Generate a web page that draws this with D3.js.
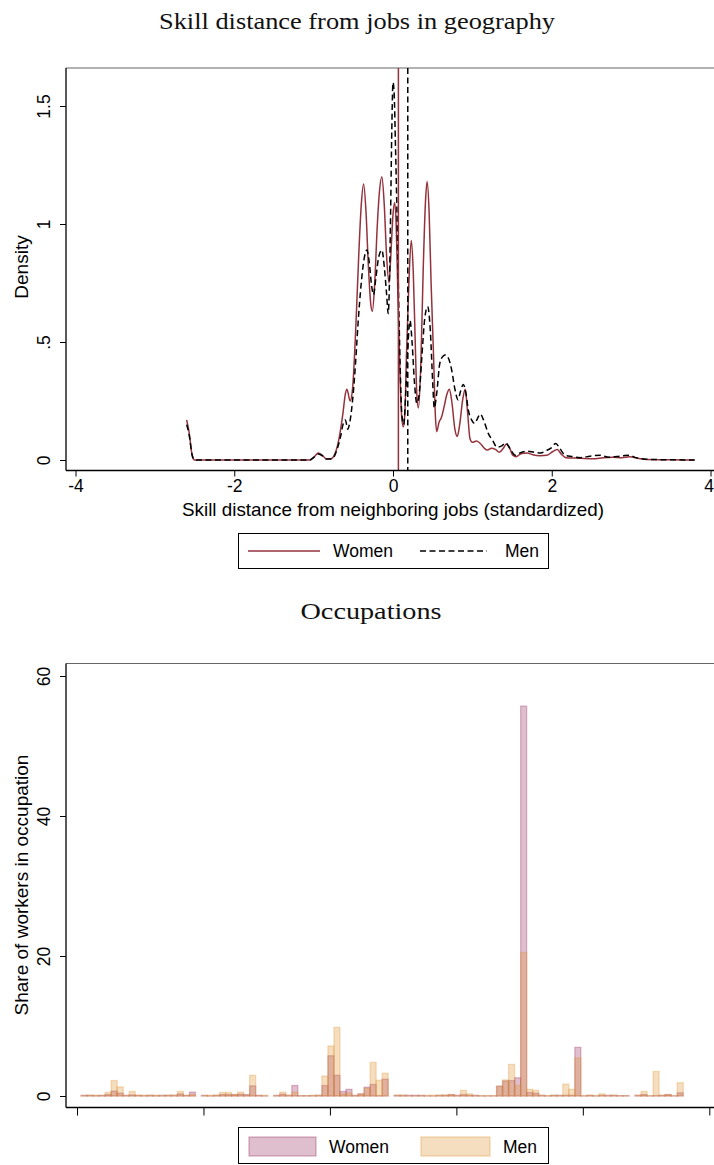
<!DOCTYPE html>
<html><head><meta charset="utf-8">
<script src="https://cdn.jsdelivr.net/npm/d3@7"></script>
<style>body{margin:0;background:#fff}svg{display:block}</style>
</head><body>
<script>
// ---------- Data: density panel ----------
const densityTitle = "Skill distance from jobs in geography";
const densityXTicks = [-4, -2, 0, 2, 4];
const densityYTicks = [0, 0.5, 1, 1.5];
const densityYTickLabels = ["0", ".5", "1", "1.5"];
const womenMean = 0.068;
const menMean = 0.186;
const womenDensity = [[-2.60,0.17],[-2.57,0.12],[-2.53,0.02],[-2.50,0.0],[-1.05,0.0],[-0.99,0.015],[-0.94,0.03],[-0.89,0.02],[-0.84,0.005],[-0.78,0.005],[-0.74,0.02],[-0.70,0.06],[-0.66,0.13],[-0.63,0.20],[-0.60,0.28],[-0.58,0.30],[-0.54,0.25],[-0.51,0.30],[-0.47,0.55],[-0.43,0.88],[-0.40,1.08],[-0.37,1.17],[-0.34,1.05],[-0.31,0.82],[-0.28,0.66],[-0.26,0.63],[-0.23,0.75],[-0.20,0.98],[-0.17,1.14],[-0.14,1.20],[-0.11,1.08],[-0.08,0.86],[-0.05,0.75],[-0.03,0.85],[0.00,1.04],[0.02,1.09],[0.04,1.0],[0.06,0.72],[0.085,0.40],[0.11,0.18],[0.13,0.14],[0.15,0.2],[0.17,0.45],[0.20,0.75],[0.23,0.93],[0.255,0.8],[0.28,0.5],[0.30,0.28],[0.32,0.22],[0.35,0.4],[0.38,0.8],[0.41,1.1],[0.43,1.18],[0.455,1.05],[0.48,0.75],[0.51,0.45],[0.535,0.18],[0.55,0.12],[0.58,0.16],[0.61,0.18],[0.64,0.22],[0.68,0.28],[0.71,0.30],[0.74,0.25],[0.78,0.13],[0.81,0.10],[0.84,0.15],[0.88,0.26],[0.91,0.30],[0.94,0.2],[0.97,0.09],[1.0,0.075],[1.05,0.08],[1.10,0.07],[1.15,0.05],[1.19,0.042],[1.24,0.05],[1.29,0.045],[1.34,0.033],[1.39,0.05],[1.43,0.068],[1.47,0.05],[1.51,0.02],[1.55,0.014],[1.62,0.028],[1.69,0.03],[1.76,0.022],[1.85,0.018],[1.94,0.02],[2.01,0.035],[2.07,0.045],[2.12,0.025],[2.18,0.01],[2.3,0.008],[2.52,0.005],[2.65,0.01],[2.77,0.012],[2.88,0.01],[2.98,0.014],[3.1,0.006],[3.19,0.002],[3.5,0.001],[3.8,0.0]];
const menDensity = [[-2.60,0.15],[-2.57,0.11],[-2.53,0.02],[-2.50,0.0],[-1.05,0.0],[-0.99,0.013],[-0.94,0.025],[-0.89,0.018],[-0.84,0.004],[-0.78,0.004],[-0.74,0.015],[-0.70,0.05],[-0.66,0.10],[-0.63,0.15],[-0.60,0.17],[-0.57,0.13],[-0.55,0.15],[-0.51,0.25],[-0.47,0.42],[-0.44,0.58],[-0.40,0.75],[-0.36,0.86],[-0.33,0.89],[-0.30,0.84],[-0.27,0.74],[-0.245,0.70],[-0.22,0.76],[-0.18,0.86],[-0.14,0.89],[-0.11,0.82],[-0.08,0.70],[-0.06,0.62],[-0.045,0.75],[-0.03,1.05],[-0.015,1.40],[0.0,1.60],[0.015,1.55],[0.03,1.35],[0.05,1.05],[0.07,0.7],[0.09,0.4],[0.11,0.2],[0.135,0.15],[0.16,0.28],[0.19,0.5],[0.215,0.59],[0.24,0.5],[0.27,0.33],[0.30,0.24],[0.33,0.28],[0.36,0.42],[0.40,0.6],[0.437,0.65],[0.47,0.55],[0.50,0.33],[0.52,0.22],[0.55,0.28],[0.59,0.41],[0.63,0.44],[0.66,0.445],[0.70,0.43],[0.74,0.38],[0.78,0.30],[0.82,0.255],[0.85,0.29],[0.885,0.32],[0.92,0.28],[0.95,0.21],[0.99,0.17],[1.03,0.155],[1.07,0.18],[1.10,0.195],[1.14,0.17],[1.20,0.113],[1.26,0.08],[1.31,0.054],[1.37,0.06],[1.42,0.073],[1.47,0.05],[1.54,0.02],[1.60,0.03],[1.69,0.037],[1.78,0.033],[1.86,0.03],[1.93,0.04],[1.99,0.05],[2.05,0.07],[2.10,0.05],[2.17,0.02],[2.26,0.015],[2.36,0.01],[2.48,0.016],[2.61,0.02],[2.72,0.012],[2.82,0.015],[2.90,0.018],[2.98,0.02],[3.06,0.01],[3.19,0.003],[3.5,0.001],[3.8,0.0]];

// ---------- Data: occupations panel ----------
const occTitle = "Occupations";
const occYTicks = [0, 20, 40, 60];
const occXTicks = [0, 21, 42, 63, 84, 105];
// occupation slot index (empty slots omitted)
const occSlots = [0,1,2,3,4,5,6,7,8,9,10,11,12,13,14,15,16,17,18,
  20,21,22,23,24,25,26,27,28,29,30,
  32,33,34,35,36,37,38,39,40,41,42,43,44,45,46,47,48,49,50,
  52,53,54,55,56,57,58,59,60,61,62,63,64,65,66,67,68,69,70,71,72,73,74,75,76,77,78,79,80,81,82,83,84,85,86,87,88,89,90,
  92,93,94,95,96,97,98,99];
const occWomen = [0.1,0.1,0.05,0.1,0.2,0.7,0.4,0.1,0.15,0.1,0.05,0.1,0.05,0.1,0.1,0.1,0.3,0.1,0.55,
  0.1,0.02,0.1,0.2,0.2,0.2,0.25,0.2,1.45,0.1,0.02,
  0.1,0.25,0.1,1.5,0.05,0.05,0.05,0.1,1.5,5.75,2.95,0.65,0.95,0.1,0.3,1.25,1.65,0.05,2.4,
  0.1,0.1,0.1,0.1,0.1,0.02,0.02,0.1,0.1,0.2,0.1,0.2,0.1,0.1,0.02,0.02,0.02,1.4,2.15,2.2,2.6,55.7,0.5,0.4,0.1,0.02,0.1,0.1,0.1,0.1,6.95,0.02,0.1,0.02,0.1,0.1,0.1,0.05,0.05,
  0.1,0.2,0.02,0.05,0.1,0.2,0.02,0.45];
const occMen = [0.05,0.1,0.1,0.05,0.5,2.2,1.3,0.05,0.65,0.1,0.1,0.1,0.1,0.05,0.1,0.1,0.65,0.05,0.2,
  0.05,0.1,0.1,0.5,0.5,0.2,0.55,0.1,2.95,0.05,0.1,
  0.05,0.55,0.1,0.55,0.02,0.02,0.1,0.1,2.85,7.15,9.8,0.3,0.45,0.05,0.3,1.1,4.8,2.25,3.25,
  0.1,0.1,0.02,0.02,0.02,0.1,0.1,0.1,0.15,0.2,0.05,0.8,0.3,0.05,0.05,0.05,0.05,1.4,2.3,4.5,1.5,20.5,0.95,0.8,0.1,0.05,0.1,0.05,1.7,0.95,5.45,0.05,0.1,0.05,0.3,0.02,0.1,0.02,0.02,
  0.1,0.65,0.05,3.5,0.1,0.2,0.05,1.9];
const seriesNames = ["Women", "Men"];

// ---------- Drawing ----------
const W = 714, H = 1165;
const sans = "'Liberation Sans', Arial, Helvetica, sans-serif";
const serif = "'Liberation Serif', 'DejaVu Serif', serif";
const womenLine = "#94323c";
const womenFill = "rgba(150,40,90,0.3)";
const menFill = "rgba(222,145,45,0.3)";
const tickFs = "17.5px", titleFs = "19px", legFs = "17.5px";

const svg = d3.select("body").append("svg").attr("width", W).attr("height", H)
  .style("font-family", sans);

// ===== Panel 1 =====
const p1 = {left: 66, top: 68, bottom: 470.5, right: 722};
svg.append("text").attr("x", 357).attr("y", 29).attr("text-anchor", "middle")
  .attr("textLength", 396).attr("lengthAdjust", "spacingAndGlyphs")
  .style("font-family", serif).style("font-size", "23px").attr("fill", "#111").text(densityTitle);

const x1 = d3.scaleLinear().domain([-4, 4]).range([75.5, 710.5]);
const y1 = d3.scaleLinear().domain([0, 1.5]).range([460, 106]);

const g1 = svg.append("g");
g1.append("line").attr("x1", p1.left).attr("x2", p1.right).attr("y1", p1.top).attr("y2", p1.top).attr("stroke", "#666").attr("stroke-width", 1.2);

const line1 = d3.line().x(d => x1(d[0])).y(d => y1(d[1])).curve(d3.curveMonotoneX);
g1.append("path").datum(womenDensity).attr("d", line1).attr("fill", "none").attr("stroke", womenLine).attr("stroke-width", 1.5);
g1.append("path").datum(menDensity).attr("d", line1).attr("fill", "none").attr("stroke", "#000").attr("stroke-width", 1.5).attr("stroke-dasharray", "6,3.5");
g1.append("line").attr("x1", x1(womenMean)).attr("x2", x1(womenMean)).attr("y1", p1.top).attr("y2", p1.bottom).attr("stroke", womenLine).attr("stroke-width", 1.5);
g1.append("line").attr("x1", x1(menMean)).attr("x2", x1(menMean)).attr("y1", p1.top).attr("y2", p1.bottom).attr("stroke", "#000").attr("stroke-width", 1.5).attr("stroke-dasharray", "6,3.5");

const xa1 = g1.append("g").attr("transform", `translate(0,${p1.bottom})`)
  .call(d3.axisBottom(x1).tickValues(densityXTicks).tickSize(6).tickPadding(3).tickFormat(d3.format("d")));
xa1.select(".domain").attr("d", `M${p1.left},0H${p1.right}`).attr("stroke", "#000").attr("stroke-width", 1.3);
xa1.selectAll(".tick line").attr("stroke", "#000");
xa1.selectAll(".tick text").style("font-size", tickFs).style("font-family", sans).attr("fill", "#000")
  .text(d => d < 0 ? "-" + Math.abs(d) : d)
  .attr("dx", d => d === 4 ? -2 : 0);

const ya1 = g1.append("g").attr("transform", `translate(${p1.left},0)`)
  .call(d3.axisLeft(y1).tickValues(densityYTicks).tickSize(6).tickFormat((d, i) => densityYTickLabels[i]));
ya1.select(".domain").attr("d", `M0,${p1.top}V${p1.bottom}`).attr("stroke", "#000").attr("stroke-width", 1.3);
ya1.selectAll(".tick line").attr("stroke", "#000");
ya1.selectAll(".tick text").attr("x", null).attr("text-anchor", "middle")
  .attr("transform", "translate(-16,0) rotate(-90)").attr("dy", "0")
  .style("font-size", tickFs).style("font-family", sans).attr("fill", "#000");

svg.append("text").attr("x", 393).attr("y", 516).attr("text-anchor", "middle").style("font-size", titleFs)
  .attr("textLength", 422).attr("lengthAdjust", "spacingAndGlyphs")
  .text("Skill distance from neighboring jobs (standardized)");
svg.append("text").attr("transform", "translate(28,267) rotate(-90)").attr("text-anchor", "middle").style("font-size", titleFs).text("Density");

// legend 1
const lg1 = svg.append("g");
lg1.append("rect").attr("x", 238.5).attr("y", 533.5).attr("width", 310).attr("height", 35).attr("fill", "#fff").attr("stroke", "#000").attr("stroke-width", 1);
lg1.append("line").attr("x1", 248).attr("x2", 320).attr("y1", 551).attr("y2", 551).attr("stroke", womenLine).attr("stroke-width", 1.5);
lg1.append("text").attr("x", 333).attr("y", 557).style("font-size", legFs).text(seriesNames[0]);
lg1.append("line").attr("x1", 420).attr("x2", 487).attr("y1", 551).attr("y2", 551).attr("stroke", "#000").attr("stroke-width", 1.5).attr("stroke-dasharray", "6,3.5");
lg1.append("text").attr("x", 505).attr("y", 557).style("font-size", legFs).text(seriesNames[1]);

// ===== Panel 2 =====
const p2 = {left: 66, top: 663.5, bottom: 1107.5, right: 722};
svg.append("text").attr("x", 371).attr("y", 619).attr("text-anchor", "middle")
  .attr("textLength", 141).attr("lengthAdjust", "spacingAndGlyphs")
  .style("font-family", serif).style("font-size", "23px").attr("fill", "#111").text(occTitle);

const x2 = d3.scaleLinear().domain([0, 105]).range([77, 709.3]);
const y2 = d3.scaleLinear().domain([0, 60]).range([1096, 676]);
const g2 = svg.append("g");
g2.append("line").attr("x1", p2.left).attr("x2", p2.right).attr("y1", p2.top).attr("y2", p2.top).attr("stroke", "#666").attr("stroke-width", 1.2);

const barOffset = 0.67;
const bw = x2(1) - x2(0);
function drawBars(vals, fill) {
  g2.append("g").selectAll("rect").data(occSlots.map((s, i) => ({s, v: vals[i]}))).join("rect")
    .attr("x", d => x2(d.s + barOffset))
    .attr("width", bw)
    .attr("y", d => y2(d.v))
    .attr("height", d => y2(0) - y2(d.v))
    .attr("fill", fill).attr("stroke", fill).attr("stroke-width", 1.3);
}
drawBars(occWomen, womenFill);
drawBars(occMen, menFill);

const xa2 = g2.append("g").attr("transform", `translate(0,${p2.bottom})`)
  .call(d3.axisBottom(x2).tickValues(occXTicks).tickSize(8).tickFormat(""));
xa2.select(".domain").attr("d", `M${p2.left},0H${p2.right}`).attr("stroke", "#000").attr("stroke-width", 1.3);
xa2.selectAll(".tick line").attr("stroke", "#000");

const ya2 = g2.append("g").attr("transform", `translate(${p2.left},0)`)
  .call(d3.axisLeft(y2).tickValues(occYTicks).tickSize(6).tickFormat(d3.format("d")));
ya2.select(".domain").attr("d", `M0,${p2.top}V${p2.bottom}`).attr("stroke", "#000").attr("stroke-width", 1.3);
ya2.selectAll(".tick line").attr("stroke", "#000");
ya2.selectAll(".tick text").attr("x", null).attr("text-anchor", "middle")
  .attr("transform", "translate(-16,0) rotate(-90)").attr("dy", "0")
  .style("font-size", tickFs).style("font-family", sans).attr("fill", "#000");

svg.append("text").attr("transform", "translate(28,885) rotate(-90)").attr("text-anchor", "middle").style("font-size", titleFs).text("Share of workers in occupation");

// legend 2
const lg2 = svg.append("g");
lg2.append("rect").attr("x", 238.5).attr("y", 1127.5).attr("width", 310).attr("height", 36).attr("fill", "#fff").attr("stroke", "#000").attr("stroke-width", 1);
lg2.append("rect").attr("x", 249).attr("y", 1137).attr("width", 67).attr("height", 19).attr("fill", womenFill).attr("stroke", womenFill).attr("stroke-width", 1.5);
lg2.append("text").attr("x", 329).attr("y", 1152.5).style("font-size", legFs).text(seriesNames[0]);
lg2.append("rect").attr("x", 421).attr("y", 1137).attr("width", 69).attr("height", 19).attr("fill", menFill).attr("stroke", menFill).attr("stroke-width", 1.5);
lg2.append("text").attr("x", 503).attr("y", 1152.5).style("font-size", legFs).text(seriesNames[1]);
</script>
</body></html>
